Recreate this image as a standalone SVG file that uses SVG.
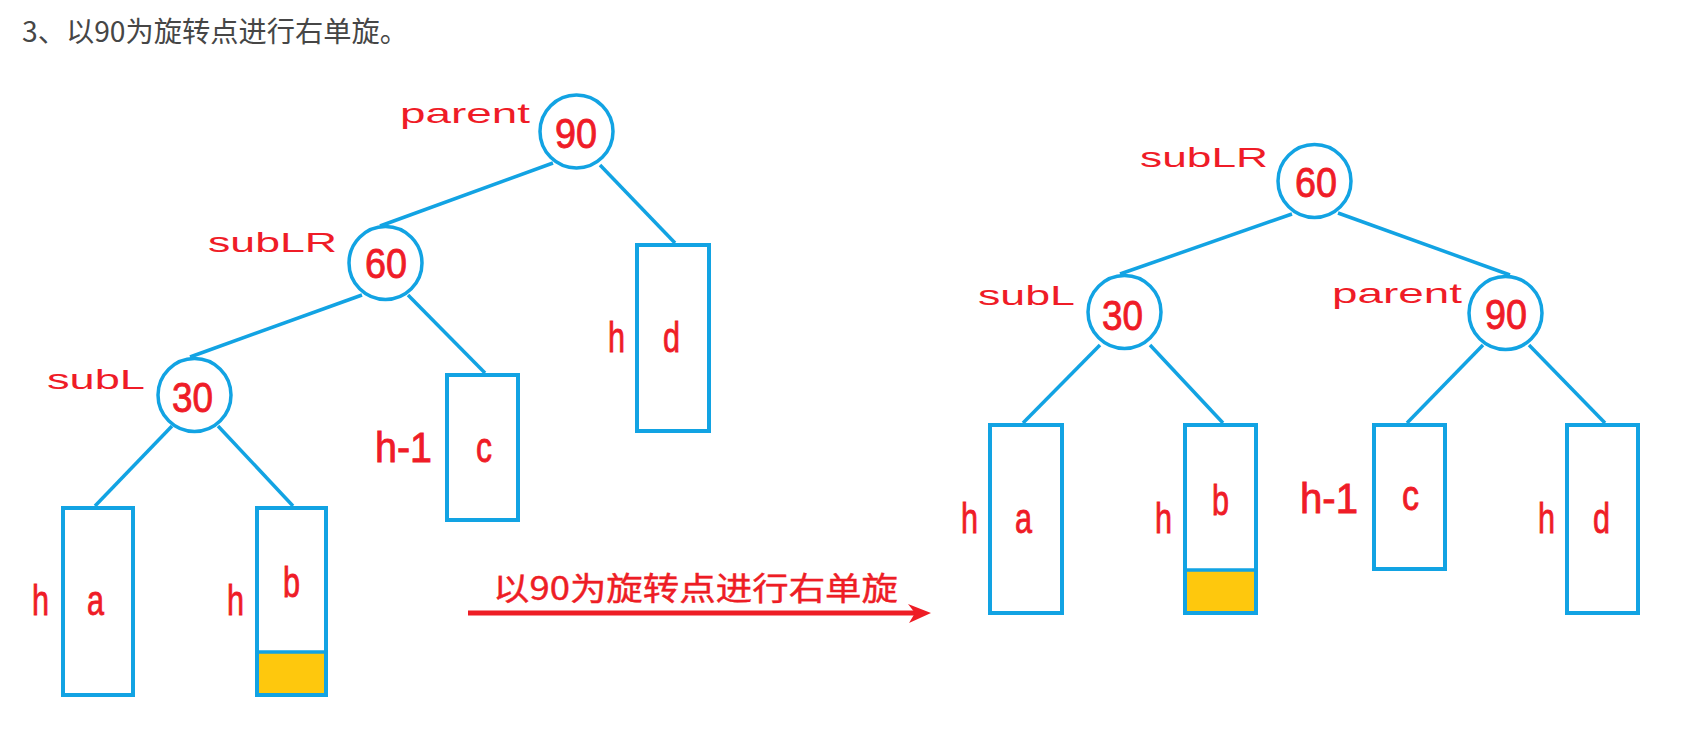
<svg xmlns="http://www.w3.org/2000/svg" width="1687" height="752" viewBox="0 0 1687 752">
<style>
.node{fill:#fff;stroke:#12a3e3;stroke-width:3.5}
.box{fill:#fff;stroke:#12a3e3;stroke-width:4}
.edge{stroke:#12a3e3;stroke-width:3.5;fill:none}
.yel{fill:#fec80d;stroke:none}
.lbl{font-family:"Liberation Sans",Arial,sans-serif;font-size:28px;fill:#ef1c27}
.num{font-family:"Liberation Sans",Arial,sans-serif;font-size:43px;fill:#ef1c27;stroke:#ef1c27;stroke-width:0.9}
.cjk{font-family:"Noto Sans CJK SC",sans-serif}
</style>
<rect width="1687" height="752" fill="#fff"/>
<text x="22" y="42" class="cjk" font-size="28" fill="#464646" textLength="386" lengthAdjust="spacingAndGlyphs">3、以90为旋转点进行右单旋。</text>

<g id="connectors">
<line class="edge" x1="553" y1="163" x2="380" y2="226"/>
<line class="edge" x1="600" y1="165" x2="675" y2="243"/>
<line class="edge" x1="362" y1="295" x2="190" y2="357"/>
<line class="edge" x1="408" y1="295" x2="485" y2="373"/>
<line class="edge" x1="172" y1="426" x2="95" y2="506"/>
<line class="edge" x1="218" y1="426" x2="293" y2="506"/>
<line class="edge" x1="1292" y1="214" x2="1120" y2="274"/>
<line class="edge" x1="1338" y1="213" x2="1510" y2="275"/>
<line class="edge" x1="1100" y1="345" x2="1023" y2="423"/>
<line class="edge" x1="1150" y1="345" x2="1223" y2="423"/>
<line class="edge" x1="1483" y1="345" x2="1407" y2="423"/>
<line class="edge" x1="1529" y1="345" x2="1605" y2="423"/>
<g id="rotate-arrow">
<line x1="468" y1="613" x2="918" y2="613" stroke="#ee1d25" stroke-width="5"/>
<polygon points="908,604 931,613 909,623 915,613" fill="#ee1d25"/>
<text x="493" y="600" class="cjk" font-size="32" fill="#ee1d25" stroke="#ee1d25" stroke-width="0.4" textLength="405" lengthAdjust="spacingAndGlyphs">以90为旋转点进行右单旋</text>
</g>
</g>

<!-- left tree -->
<g id="L90">
<circle class="node" cx="576.5" cy="131.5" r="36.5"/>
<text class="lbl" x="400" y="123" textLength="130" lengthAdjust="spacingAndGlyphs">parent</text>
<text class="num" x="555" y="148" textLength="42" lengthAdjust="spacingAndGlyphs">90</text>
</g>
<g id="L60">
<circle class="node" cx="385.5" cy="263" r="36.5"/>
<text class="lbl" x="208" y="252" textLength="129" lengthAdjust="spacingAndGlyphs">subLR</text>
<text class="num" x="365" y="278" textLength="42" lengthAdjust="spacingAndGlyphs">60</text>
</g>
<g id="L30">
<circle class="node" cx="194.5" cy="395" r="36.5"/>
<text class="lbl" x="47" y="389" textLength="98" lengthAdjust="spacingAndGlyphs">subL</text>
<text class="num" x="172" y="412" textLength="41" lengthAdjust="spacingAndGlyphs">30</text>
</g>
<g id="La">
<rect class="box" x="63" y="508" width="70" height="187"/>
<text class="num" x="32" y="615" textLength="17" lengthAdjust="spacingAndGlyphs">h</text>
<text class="num" x="87" y="615" textLength="17" lengthAdjust="spacingAndGlyphs">a</text>
</g>
<g id="Lb">
<rect class="box" x="257" y="508" width="69" height="187"/>
<rect class="yel" x="259" y="652" width="65" height="41"/>
<line class="edge" x1="257" y1="652" x2="326" y2="652"/>
<text class="num" x="227" y="615" textLength="17" lengthAdjust="spacingAndGlyphs">h</text>
<text class="num" x="283" y="597" textLength="17" lengthAdjust="spacingAndGlyphs">b</text>
</g>
<g id="Lc">
<rect class="box" x="447" y="375" width="71" height="145"/>
<text class="num" x="375" y="462" textLength="57" lengthAdjust="spacingAndGlyphs">h-1</text>
<text class="num" x="476" y="462" textLength="16" lengthAdjust="spacingAndGlyphs">c</text>
</g>
<g id="Ld">
<rect class="box" x="637" y="245" width="72" height="186"/>
<text class="num" x="608" y="352" textLength="17" lengthAdjust="spacingAndGlyphs">h</text>
<text class="num" x="663" y="352" textLength="17" lengthAdjust="spacingAndGlyphs">d</text>
</g>

<!-- right tree -->
<g id="R60">
<circle class="node" cx="1314.5" cy="181" r="36.5"/>
<text class="lbl" x="1140" y="167" textLength="128" lengthAdjust="spacingAndGlyphs">subLR</text>
<text class="num" x="1295" y="197" textLength="42" lengthAdjust="spacingAndGlyphs">60</text>
</g>
<g id="R30">
<circle class="node" cx="1124.5" cy="312" r="36.5"/>
<text class="lbl" x="978" y="305" textLength="97" lengthAdjust="spacingAndGlyphs">subL</text>
<text class="num" x="1102" y="330" textLength="41" lengthAdjust="spacingAndGlyphs">30</text>
</g>
<g id="R90">
<circle class="node" cx="1505.5" cy="313" r="36.5"/>
<text class="lbl" x="1332" y="303" textLength="130" lengthAdjust="spacingAndGlyphs">parent</text>
<text class="num" x="1485" y="329" textLength="42" lengthAdjust="spacingAndGlyphs">90</text>
</g>
<g id="Ra">
<rect class="box" x="990" y="425" width="72" height="188"/>
<text class="num" x="961" y="533" textLength="17" lengthAdjust="spacingAndGlyphs">h</text>
<text class="num" x="1015" y="533" textLength="17" lengthAdjust="spacingAndGlyphs">a</text>
</g>
<g id="Rb">
<rect class="box" x="1185" y="425" width="71" height="188"/>
<rect class="yel" x="1187" y="570" width="67" height="41"/>
<line class="edge" x1="1185" y1="570" x2="1256" y2="570"/>
<text class="num" x="1155" y="533" textLength="17" lengthAdjust="spacingAndGlyphs">h</text>
<text class="num" x="1212" y="515" textLength="17" lengthAdjust="spacingAndGlyphs">b</text>
</g>
<g id="Rc">
<rect class="box" x="1374" y="425" width="71" height="144"/>
<text class="num" x="1300" y="513" textLength="58" lengthAdjust="spacingAndGlyphs">h-1</text>
<text class="num" x="1402" y="510" textLength="17" lengthAdjust="spacingAndGlyphs">c</text>
</g>
<g id="Rd">
<rect class="box" x="1567" y="425" width="71" height="188"/>
<text class="num" x="1538" y="533" textLength="17" lengthAdjust="spacingAndGlyphs">h</text>
<text class="num" x="1593" y="533" textLength="17" lengthAdjust="spacingAndGlyphs">d</text>
</g>
</svg>
